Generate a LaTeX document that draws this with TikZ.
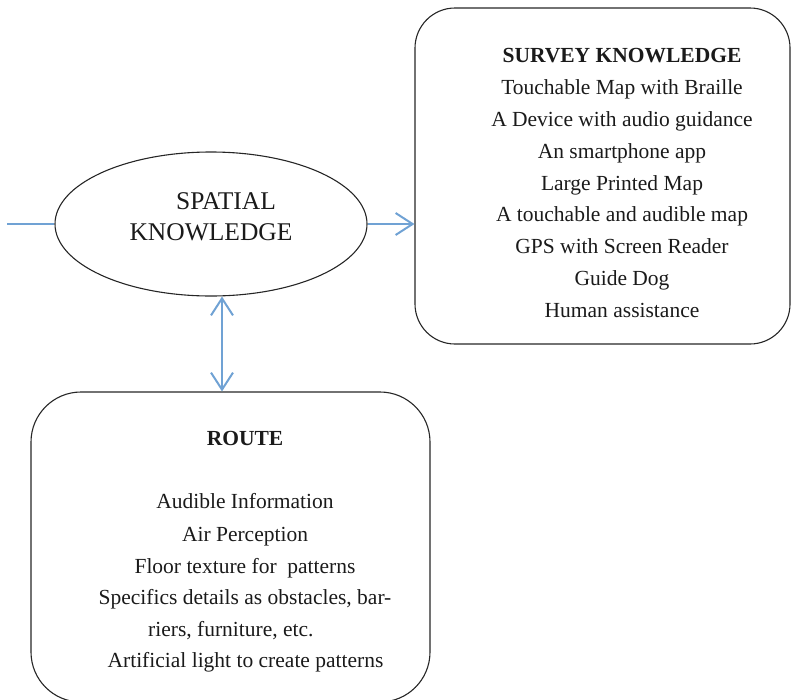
\documentclass[tikz,border=0pt]{standalone}
\usepackage{fontspec}
\setmainfont{LiberationSerif}[Extension=.ttf, UprightFont=*-Regular, BoldFont=*-Bold, ItalicFont=*-Italic, BoldItalicFont=*-BoldItalic]
\usetikzlibrary{shapes.geometric,arrows.meta,calc}
\definecolor{conncol}{RGB}{112,162,212}
\definecolor{txtcol}{RGB}{26,26,26}
\tikzset{
  conn/.style={draw=conncol, line width=2pt},
  tipv/.style={-{Straight Barb[length=17pt,width=22pt]}},
  tipvv/.style={{Straight Barb[length=17pt,width=22pt]}-{Straight Barb[length=17pt,width=22pt]}},
  roundbox/.style={draw=black!85, line width=1.1pt, inner sep=0pt},
  ovalnode/.style={draw=black!85, line width=1.1pt, ellipse, inner sep=0pt, minimum width=312pt, minimum height=144pt},
  txt/.style={inner sep=0pt, anchor=base, text=txtcol, font=\fontsize{21.5}{24}\selectfont},
  bigtxt/.style={inner sep=0pt, anchor=base, text=txtcol, font=\fontsize{25.5}{28}\selectfont},
}
\begin{document}
\begin{tikzpicture}[x=1pt,y=-1pt]
\useasboundingbox (0,0) rectangle (791,699);
% shapes
\node[ovalnode] (sk) at (211,224) {};
\node[roundbox, rounded corners=40pt, minimum width=375pt, minimum height=336pt] (sv) at (602.5,176) {};
\node[roundbox, rounded corners=50pt, minimum width=399pt, minimum height=310pt] (rt) at (230.5,547) {};
% ellipse text
\node[bigtxt] (sk1) at (226,209) {SPATIAL};
\node[bigtxt] (sk2) at (211,240) {KNOWLEDGE};
% survey text
\node[txt, font=\fontsize{21.5}{24}\selectfont\bfseries] (s0) at (622,62) {SURVEY KNOWLEDGE};
\node[txt] (s1) at (622,94) {Touchable Map with Braille};
\node[txt] (s2) at (622,126) {A Device with audio guidance};
\node[txt] (s3) at (622,158) {An smartphone app};
\node[txt] (s4) at (622,190) {Large Printed Map};
\node[txt] (s5) at (622,221) {A touchable and audible map};
\node[txt] (s6) at (622,253) {GPS with Screen Reader};
\node[txt] (s7) at (622,285) {Guide Dog};
\node[txt] (s8) at (622,317) {Human assistance};
% route text
\node[txt, font=\fontsize{21.5}{24}\selectfont\bfseries] (r0) at (245,445) {ROUTE};
\node[txt] (r1) at (245,508) {Audible Information};
\node[txt] (r2) at (245,541) {Air Perception};
\node[txt] (r3) at (245,573) {Floor texture for\ \ patterns};
\node[txt] (r4) at (245,604) {Specifics details as obstacles, bar-};
\node[txt, anchor=base west] (r5) at (148,636) {riers, furniture, etc.};
\node[txt] (r6) at (245.5,667) {Artificial light to create patterns};
% connectors
\coordinate (lft) at (7,224);
\draw[conn] (lft) -- (sk.west);
\draw[conn, tipv] (sk.east) -- (sk.east -| sv.west);
\path (sk.south) ++(11,0) coordinate (vt);
\draw[conn, tipvv] (vt) -- (vt |- rt.north);
\end{tikzpicture}
\end{document}
